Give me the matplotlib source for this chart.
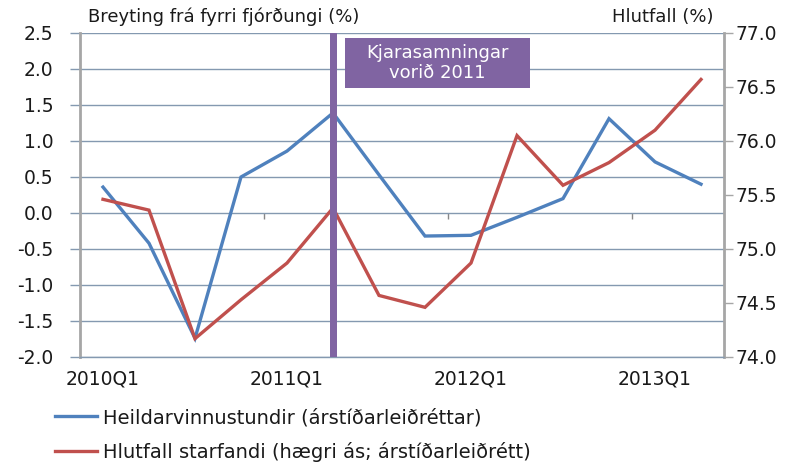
import matplotlib
matplotlib.use("Agg")
import matplotlib.pyplot as plt
from matplotlib.patches import Rectangle
import numpy as np

quarters = ["2010Q1", "2010Q2", "2010Q3", "2010Q4",
            "2011Q1", "2011Q2", "2011Q3", "2011Q4",
            "2012Q1", "2012Q2", "2012Q3", "2012Q4",
            "2013Q1", "2013Q2"]
heildarvinnustundir = [0.36, -0.42, -1.74, 0.50, 0.86, 1.39, 0.53, -0.32,
                       -0.31, -0.06, 0.20, 1.31, 0.71, 0.40]
hlutfall_starfandi = [75.46, 75.36, 74.17, 74.53, 74.87, 75.38, 74.57, 74.46,
                      74.87, 76.05, 75.59, 75.80, 76.10, 76.57]
event_quarter = "2011Q2"
event_label = "Kjarasamningar\nvorið 2011"
label_quarters = ["2010Q1", "2011Q1", "2012Q1", "2013Q1"]
left_ticks = [-2.0, -1.5, -1.0, -0.5, 0.0, 0.5, 1.0, 1.5, 2.0, 2.5]
right_ticks = [74.0, 74.5, 75.0, 75.5, 76.0, 76.5, 77.0]

blue = "#4F81BD"
red = "#C0504D"
purple = "#8064A2"
grid_c = "#8499B0"
spine_c = "#A6A6A6"
txt_c = "#1a1a1a"
plt.rcParams['font.family'] = ['DejaVu Sans']

W, H = 796, 463
fig = plt.figure(figsize=(W/100, H/100), dpi=100)
ax = fig.add_axes([80/W, 1-357/H, (724-80)/W, (357-33)/H])
x = np.arange(len(quarters))

ax.set_xlim(-0.5, len(quarters) - 0.5)
ax.set_ylim(left_ticks[0], left_ticks[-1])
ax.set_yticks(left_ticks)
ax.set_yticklabels([f"{v:.1f}" for v in left_ticks])
ax.yaxis.grid(True, color=grid_c, linewidth=1.0)
ax.set_axisbelow(True)
ax.tick_params(axis='y', length=7.2, color=grid_c, width=1.0, pad=12,
               labelsize=13.5, labelcolor=txt_c)
lab_idx = [quarters.index(q) for q in label_quarters]
ax.set_xticks(lab_idx)
ax.set_xticklabels(label_quarters)
ax.tick_params(axis='x', length=0, pad=9, labelsize=13.5, labelcolor=txt_c)
ax.spines['top'].set_visible(False)
ax.spines['bottom'].set_color(grid_c)
ax.spines['bottom'].set_linewidth(1.0)
ax.spines['left'].set_color(spine_c)
ax.spines['left'].set_linewidth(2.0)
ax.spines['right'].set_color(spine_c)
ax.spines['right'].set_linewidth(2.0)

# category boundary ticks on the zero line
secax = ax.secondary_xaxis((0 - left_ticks[0]) / (left_ticks[-1] - left_ticks[0]))
secax.set_xticks([3.5, 7.5, 11.5])
secax.set_xticklabels([])
secax.tick_params(length=4, direction='out', color='#888888', width=1.0)
secax.spines['bottom'].set_visible(False)
secax.spines['top'].set_visible(False)

ev = quarters.index(event_quarter)
ax.axvline(ev, color=purple, linewidth=5, zorder=4)

l1, = ax.plot(x, heildarvinnustundir, color=blue, linewidth=2.4, zorder=3,
              solid_joinstyle='miter', label="Heildarvinnustundir (árstíðarleiðréttar)")

ax2 = ax.twinx()
ax2.set_ylim(right_ticks[0], right_ticks[-1])
ax2.set_yticks(right_ticks)
ax2.set_yticklabels([f"{v:.1f}" for v in right_ticks])
ax2.tick_params(axis='y', length=6.5, color=spine_c, width=1.0, pad=2,
                labelsize=13.5, labelcolor=txt_c)
for s in ['top', 'bottom', 'left', 'right']:
    ax2.spines[s].set_visible(False)
l2, = ax2.plot(x, hlutfall_starfandi, color=red, linewidth=2.4, zorder=3,
               solid_joinstyle='miter', label="Hlutfall starfandi (hægri ás; árstíðarleiðrétt)")
ax2.axvline(ev, color=purple, linewidth=5, zorder=4)

# annotation box (figure pixel layout)
bx0, bx1, by0, by1 = 345, 530, 38, 88
ax2.add_patch(Rectangle((bx0/W, 1-by1/H), (bx1-bx0)/W, (by1-by0)/H,
                        transform=fig.transFigure, facecolor=purple,
                        edgecolor='none', zorder=6, clip_on=False))
ax2.text((bx0+bx1)/2/W, 1-(by0+by1)/2/H, event_label, transform=fig.transFigure,
         ha='center', va='center', multialignment='center', color='white',
         fontsize=13, linespacing=1.15, zorder=7)

fig.text(88/W, 1-17/H, "Breyting frá fyrri fjórðungi (%)", ha='left', va='center',
         fontsize=13, color=txt_c)
fig.text(713/W, 1-17/H, "Hlutfall (%)", ha='right', va='center',
         fontsize=13, color=txt_c)

fig.legend(handles=[l1, l2], loc='upper left', bbox_to_anchor=(55/W, 1-408/H),
           frameon=False, fontsize=14, handlelength=2.16, handletextpad=0.3,
           labelspacing=0.76, borderpad=0, borderaxespad=0, labelcolor=txt_c)

fig.savefig("out.png", dpi=100)
